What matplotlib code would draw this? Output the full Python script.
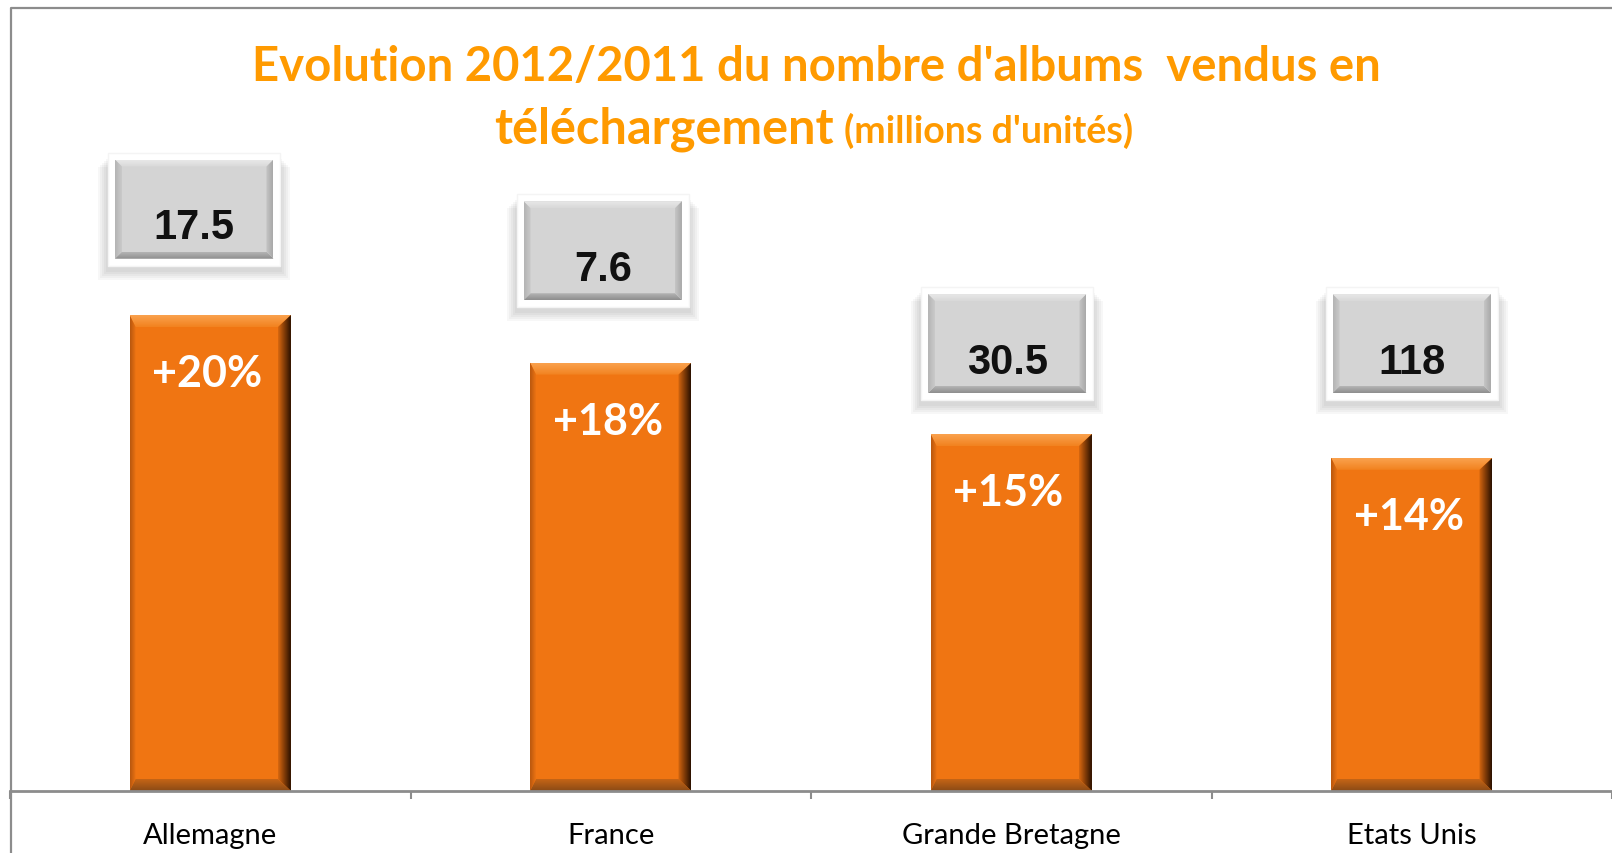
import numpy as np
import matplotlib
matplotlib.use("Agg")
import matplotlib.pyplot as plt
from matplotlib.colors import to_rgb
from matplotlib.lines import Line2D
from matplotlib.patches import Polygon, Rectangle

# data
countries = ["Allemagne", "France", "Grande Bretagne", "Etats Unis"]
growth = [20, 18, 15, 14]            # evolution 2012/2011 (%)
albums = ["17.5", "7.6", "30.5", "118"]  # millions d'unites vendues

# layout of the grey value boxes (data coords)
box_dx = [-0.04, -0.02, -0.01, 0.0]
box_y = [24.45, 22.7, 18.8, 18.8]

ORANGE = "#F07512"
TITLE_ORANGE = "#FF9A00"
GREY_LINE = "#8C8C8C"

W, H = 1612, 854
PX_X = 402.0   # pixels per category
PX_Y = 23.8    # pixels per unit on y
SX, SY = 1 / PX_X, 1 / PX_Y

fig = plt.figure(figsize=(W / 100, H / 100), dpi=100)
ax = fig.add_axes([10 / W, (H - 792) / H, 1602 / W, 783 / H])
XLIM = (-0.5, -0.5 + 1602 / PX_X)
YLIM = (0, 783 / PX_Y)


def grad_poly(verts, c0, c1, direction, z):
    """polygon filled with a linear gradient (c0 at bottom/left, c1 at top/right)"""
    verts = np.asarray(verts)
    poly = Polygon(verts, closed=True, facecolor="none", edgecolor="none")
    ax.add_patch(poly)
    t = np.linspace(0, 1, 64)[:, None]
    cols = np.array(to_rgb(c0)) * (1 - t) + np.array(to_rgb(c1)) * t
    img = cols[None, :, :] if direction == "h" else cols[:, None, :]
    ext = (verts[:, 0].min(), verts[:, 0].max(), verts[:, 1].min(), verts[:, 1].max())
    im = ax.imshow(img, extent=ext, origin="lower", aspect="auto",
                   interpolation="bilinear", zorder=z)
    im.set_clip_path(poly)


x = np.arange(len(countries))
bars = ax.bar(x, growth, width=0.403, color=ORANGE, zorder=2)

for r, g in zip(bars, growth):
    x0, w, h = r.get_x(), r.get_width(), r.get_height()
    x1 = x0 + w
    t, rr, b, l = 12, 13, 12, 6
    # top bevel
    grad_poly([(x0, h), (x1, h), (x1 - rr * SX, h - t * SY), (x0 + l * SX, h - t * SY)],
              "#F2821F", "#FAA24E", "v", 3)
    # right bevel
    grad_poly([(x1, h), (x1, 0), (x1 - rr * SX, b * SY), (x1 - rr * SX, h - t * SY)],
              "#D9680F", "#2A1000", "h", 3)
    # bottom bevel
    grad_poly([(x0, 0), (x1, 0), (x1 - rr * SX, b * SY), (x0 + l * SX, b * SY)],
              "#8A4A15", "#C66516", "v", 3)
    # left bevel
    grad_poly([(x0, h), (x0, 0), (x0 + l * SX, b * SY), (x0 + l * SX, h - t * SY)],
              "#B8570E", "#EC7313", "h", 3)
    ax.text(x0 + w / 2 - 3 * SX, h - 58 * SY, f"+{g}%", ha="center", va="center",
            color="white", fontsize=31, fontweight="bold", family="Lato", zorder=5)

# grey value boxes
bw, bh = 173 * SX, 113 * SY
for xi, dx, yc, lab in zip(x, box_dx, box_y, albums):
    cx = xi + dx
    # soft shadow, mostly below the box
    for k in range(5):
        e = (k + 1) * 2
        ax.add_patch(Rectangle((cx - bw / 2 - e * SX, yc - bh / 2 - (e + 4) * SY),
                               bw + 2 * e * SX, bh,
                               facecolor="black", edgecolor="none", alpha=0.03, zorder=3))
    ax.add_patch(Rectangle((cx - bw / 2, yc - bh / 2), bw, bh,
                           facecolor="white", edgecolor="#F4F4F4", lw=1, zorder=4))
    iw, ih = bw - 14 * SX, bh - 14 * SY
    gx0, gy0 = cx - iw / 2, yc - ih / 2
    gx1, gy1 = gx0 + iw, gy0 + ih
    ax.add_patch(Rectangle((gx0, gy0), iw, ih, facecolor="#D4D4D4", edgecolor="none", zorder=4))
    e = 7
    grad_poly([(gx0, gy1), (gx1, gy1), (gx1 - e * SX, gy1 - e * SY), (gx0 + e * SX, gy1 - e * SY)],
              "#D8D8D8", "#E8E8E8", "v", 4.5)
    grad_poly([(gx0, gy0), (gx1, gy0), (gx1 - e * SX, gy0 + e * SY), (gx0 + e * SX, gy0 + e * SY)],
              "#8E8E8E", "#B4B4B4", "v", 4.5)
    grad_poly([(gx0, gy1), (gx0, gy0), (gx0 + e * SX, gy0 + e * SY), (gx0 + e * SX, gy1 - e * SY)],
              "#B4B4B4", "#CACACA", "h", 4.5)
    grad_poly([(gx1, gy1), (gx1, gy0), (gx1 - e * SX, gy0 + e * SY), (gx1 - e * SX, gy1 - e * SY)],
              "#C6C6C6", "#A8A8A8", "h", 4.5)
    ax.text(cx, yc - 18 * SY, lab, ha="center", va="center", color="#111111",
            fontsize=30, fontweight="bold", family="Liberation Sans", zorder=6)

ax.set_xlim(*XLIM)
ax.set_ylim(*YLIM)
ax.set_yticks([])
ax.set_xticks(x)
ax.set_xticklabels(countries, fontsize=21, family="Lato", color="black")
ax.set_xticks(np.arange(-0.5, len(countries), 1.0), minor=True)
ax.tick_params(axis="x", which="major", length=0, pad=22)
ax.tick_params(axis="x", which="minor", length=6, width=1.5, color=GREY_LINE, direction="out")
for s in ["top", "right", "left"]:
    ax.spines[s].set_visible(False)
ax.spines["bottom"].set_color(GREY_LINE)
ax.spines["bottom"].set_linewidth(2)
ax.spines["bottom"].set_zorder(4)
ax.patch.set_alpha(0)

# chart area frame (top and left edges visible)
fig.add_artist(Line2D([11 / W, 11 / W, 1.0], [0, 1 - 9 / H, 1 - 9 / H],
                      transform=fig.transFigure, color=GREY_LINE, lw=1.6))

# title
fig.text(816 / W, 1 - 81 / H, "Evolution 2012/2011 du nombre d'albums  vendus en",
         ha="center", va="baseline", color=TITLE_ORANGE, fontsize=34,
         fontweight="bold", family="Lato")
fig.text(834 / W, 1 - 143 / H, "téléchargement", ha="right", va="baseline",
         color=TITLE_ORANGE, fontsize=35, fontweight="bold", family="Lato")
fig.text(844 / W, 1 - 143 / H, "(millions d'unités)", ha="left", va="baseline",
         color=TITLE_ORANGE, fontsize=27, fontweight="bold", family="Lato")

fig.savefig("out.png", dpi=100)
